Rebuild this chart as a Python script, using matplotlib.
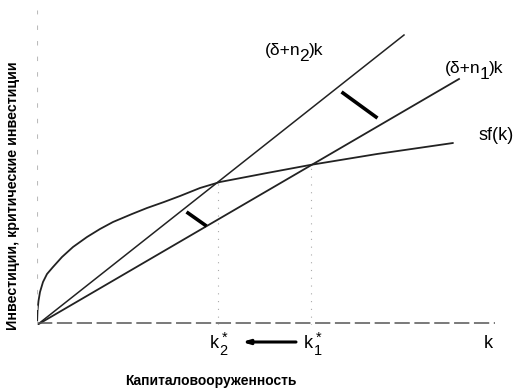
import numpy as np
import matplotlib
matplotlib.use("Agg")
import matplotlib.pyplot as plt
from matplotlib import transforms

plt.rcParams['font.family'] = ['Liberation Sans', 'DejaVu Sans']
plt.rcParams['mathtext.fontset'] = 'custom'
plt.rcParams['mathtext.rm'] = 'Liberation Sans'
plt.rcParams['mathtext.it'] = 'Liberation Sans'
plt.rcParams['mathtext.default'] = 'rm'

# investment curve sf(k)
sf_k = [0, 0.5, 1.5, 3, 6, 10, 16, 25, 36, 50, 63, 76, 95, 110, 127, 143, 163, 183,
        230, 273, 340, 416]
sf_v = [0, 14, 24, 33, 43, 51, 58, 68, 78, 88, 96, 103, 111, 117, 123, 129, 137, 143,
        152, 160, 171, 182]

# break-even lines (delta+n)k
n2_k = [0, 367]
n2_v = [0, 290]
n1_k = [0, 422]
n1_v = [0, 246]

# steady states
k_star2 = 181
k_star1 = 274

# shift markers between the lines
shift1 = ([151, 168], [112, 100])
shift2 = ([306, 339], [232, 208])


def rich(ax, x, y, parts, size):
    # pieces placed one after another: (text, vertical shift px, size factor, kerning px)
    fig = ax.figure
    renderer = fig.canvas.get_renderer()
    t = ax.transData
    for s, dy, f, kern in parts:
        tt = transforms.offset_copy(t, x=0, y=dy, units='dots', fig=fig)
        txt = ax.text(x, y, s, transform=tt, fontsize=size * f, ha='left',
                      va='baseline', clip_on=False)
        ex = txt.get_window_extent(renderer=renderer)
        t = transforms.offset_copy(t, x=ex.width + kern, units='dots', fig=fig)


fig = plt.figure(figsize=(5.22, 3.89), dpi=100)
ax = fig.add_axes([37 / 522, 64 / 389, 463 / 522, 320 / 389])
ax.set_xlim(0, 463)
ax.set_ylim(0, 320)
ax.axis('off')

ax.plot(sf_k, sf_v, color='#222222', lw=1.3, solid_capstyle='round')
ax.plot(n2_k, n2_v, color='#222222', lw=1.1)
ax.plot(n1_k, n1_v, color='#222222', lw=1.3)

ax.plot(*shift1, color='black', lw=2.6)
ax.plot(*shift2, color='black', lw=2.6)

# axes drawn as faint dashed lines
ax.plot([0, 458], [2, 2], color='#555555', lw=1.1, ls=(0, (10, 3)))
ax.plot([0, 0], [0, 315], color='#bbbbbb', lw=0.8, ls=(0, (4, 10)))
ax.plot([k_star2, k_star2], [0, 143], color='#aaaaaa', lw=0.8, ls=(0, (1, 6)))
ax.plot([k_star1, k_star1], [0, 160], color='#aaaaaa', lw=0.8, ls=(0, (1, 6)))

rich(ax, 228, 270, [('(δ+n', 0, 1, -1.5), ('2', -6, 1, 0.5), (')k', 0, 1, 0)], 12.5)
rich(ax, 408, 252, [('(δ+n', 0, 1, -1.5), ('1', -6, 1, 0.5), (')k', 0, 1, 0)], 12.5)
rich(ax, 441, 185, [('sf(k)', 0, 1, 0)], 13)

# superscript star and subscript index stacked in one mathtext piece, scaled up
rich(ax, k_star2 - 8, -23, [('k', 0, 1, 0), (r'$^*_2$', -2, 1.15, 0)], 13)
rich(ax, k_star1 - 7, -23, [('k', 0, 1, 0), (r'$^*_1$', -2, 1.15, 0)], 13)
rich(ax, 447, -23, [('k', 0, 1, 0)], 13)
ax.annotate('', xy=(k_star2 + 24, -17), xytext=(k_star1 - 15, -17),
            annotation_clip=False,
            arrowprops=dict(arrowstyle='-|>,head_length=0.4,head_width=0.12',
                            color='black', lw=2.2, shrinkA=0, shrinkB=0))

fig.text(211 / 522, 1 - 381 / 389, 'Капиталовооруженность', fontsize=10,
         fontweight='bold', ha='center', va='center')
fig.text(13 / 522, 1 - 196 / 389, 'Инвестиции, критические инвестиции',
         fontsize=10.3, fontweight='bold', rotation=90, ha='center', va='center')

fig.savefig('out.png', dpi=100)
